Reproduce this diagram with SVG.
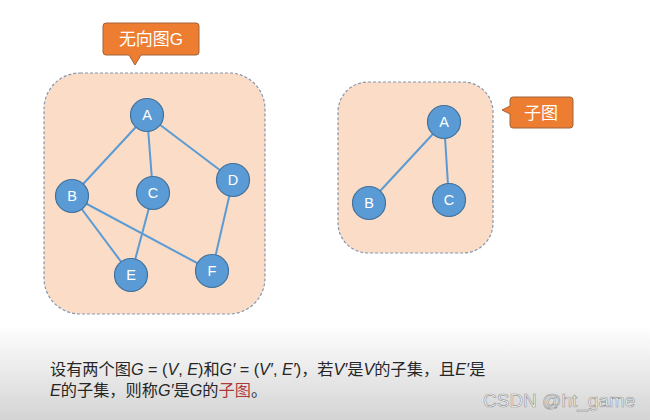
<svg xmlns="http://www.w3.org/2000/svg" width="650" height="420" viewBox="0 0 650 420">
<defs>
<linearGradient id="bg" x1="0" y1="0" x2="0" y2="1">
<stop offset="0" stop-color="#ffffff"/>
<stop offset="1" stop-color="#d4d4d4"/>
</linearGradient>
<style>
.box{fill:#fbdcc6;stroke:#8497b0;stroke-width:1.2;stroke-dasharray:3 2}
.callout{fill:#ed7d31;stroke:#a0643c;stroke-width:1}
.ctext{font-family:"Liberation Sans","Noto Sans CJK SC",sans-serif;font-size:17px;fill:#ffffff}
.node circle{fill:#5b9bd5;stroke:#41719c;stroke-width:1.2}
.node text{font-family:"Liberation Sans",sans-serif;font-size:14.5px;fill:#ffffff;text-anchor:middle}
.edge{stroke:#5b9bd5;stroke-width:2;fill:none}
.body{font-family:"Liberation Sans","Noto Sans CJK SC",sans-serif;font-size:16.2px;fill:#262626}
.it{font-style:italic}
.red{fill:#b03a3a}
.wm{font-family:"Liberation Sans",sans-serif;font-size:19px;fill:#ffffff;stroke:#9a9a9a;stroke-width:0.7}
</style>
</defs>
<rect x="0" y="0" width="650" height="420" fill="#ffffff"/>
<rect x="0" y="325" width="650" height="95" fill="url(#bg)"/>

<g id="boxG">
<rect class="box" x="44" y="73" width="221" height="241" rx="36"/>
</g>
<g id="boxSub">
<rect class="box" x="338" y="82" width="155" height="171" rx="30"/>
</g>

<g id="calloutG">
<path class="callout" d="M106,23 H196 Q199,23 199,26 V52 Q199,55 196,55 H141 L135,65 L129,55 H106 Q103,55 103,52 V26 Q103,23 106,23 Z"/>
<text class="ctext" x="151" y="45" text-anchor="middle">无向图G</text>
</g>
<g id="calloutSub">
<path class="callout" d="M513,97 H570 Q573,97 573,100 V125 Q573,128 570,128 H513 Q510,128 510,125 V114 L502,110 L510,106 V100 Q510,97 513,97 Z"/>
<text class="ctext" x="541" y="119" text-anchor="middle">子图</text>
</g>

<g id="connectors">
<line class="edge" x1="147" y1="115" x2="72" y2="196"/>
<line class="edge" x1="147" y1="115" x2="153" y2="193"/>
<line class="edge" x1="147" y1="115" x2="233" y2="180"/>
<line class="edge" x1="72" y1="196" x2="131" y2="275"/>
<line class="edge" x1="72" y1="196" x2="212" y2="271"/>
<line class="edge" x1="153" y1="193" x2="131" y2="275"/>
<line class="edge" x1="233" y1="180" x2="212" y2="271"/>
<line class="edge" x1="444" y1="122" x2="369" y2="203"/>
<line class="edge" x1="444" y1="122" x2="449" y2="200"/>
</g>

<g id="nA" class="node"><circle cx="147" cy="115" r="16.5"/><text x="147" y="120">A</text></g>
<g id="nB" class="node"><circle cx="72" cy="196" r="16.5"/><text x="72" y="201">B</text></g>
<g id="nC" class="node"><circle cx="153" cy="193" r="16.5"/><text x="153" y="198">C</text></g>
<g id="nD" class="node"><circle cx="233" cy="180" r="16.5"/><text x="233" y="185">D</text></g>
<g id="nE" class="node"><circle cx="131" cy="275" r="16.5"/><text x="131" y="280">E</text></g>
<g id="nF" class="node"><circle cx="212" cy="271" r="16.5"/><text x="212" y="276">F</text></g>

<g id="sA" class="node"><circle cx="444" cy="122" r="16.5"/><text x="444" y="127">A</text></g>
<g id="sB" class="node"><circle cx="369" cy="203" r="16.5"/><text x="369" y="208">B</text></g>
<g id="sC" class="node"><circle cx="449" cy="200" r="16.5"/><text x="449" y="205">C</text></g>

<text class="body" x="50" y="375">设有两个图<tspan class="it">G</tspan> = (<tspan class="it">V</tspan>, <tspan class="it">E</tspan>)和<tspan class="it">G′</tspan> = (<tspan class="it">V′</tspan>, <tspan class="it">E′</tspan>)，若<tspan class="it">V′</tspan>是<tspan class="it">V</tspan>的子集，且<tspan class="it">E′</tspan>是</text>
<text class="body" x="50" y="396"><tspan class="it">E</tspan>的子集，则称<tspan class="it">G′</tspan>是<tspan class="it">G</tspan>的<tspan class="red">子图</tspan>。</text>

<text class="wm" x="483" y="407">CSDN @ht_game</text>
</svg>
